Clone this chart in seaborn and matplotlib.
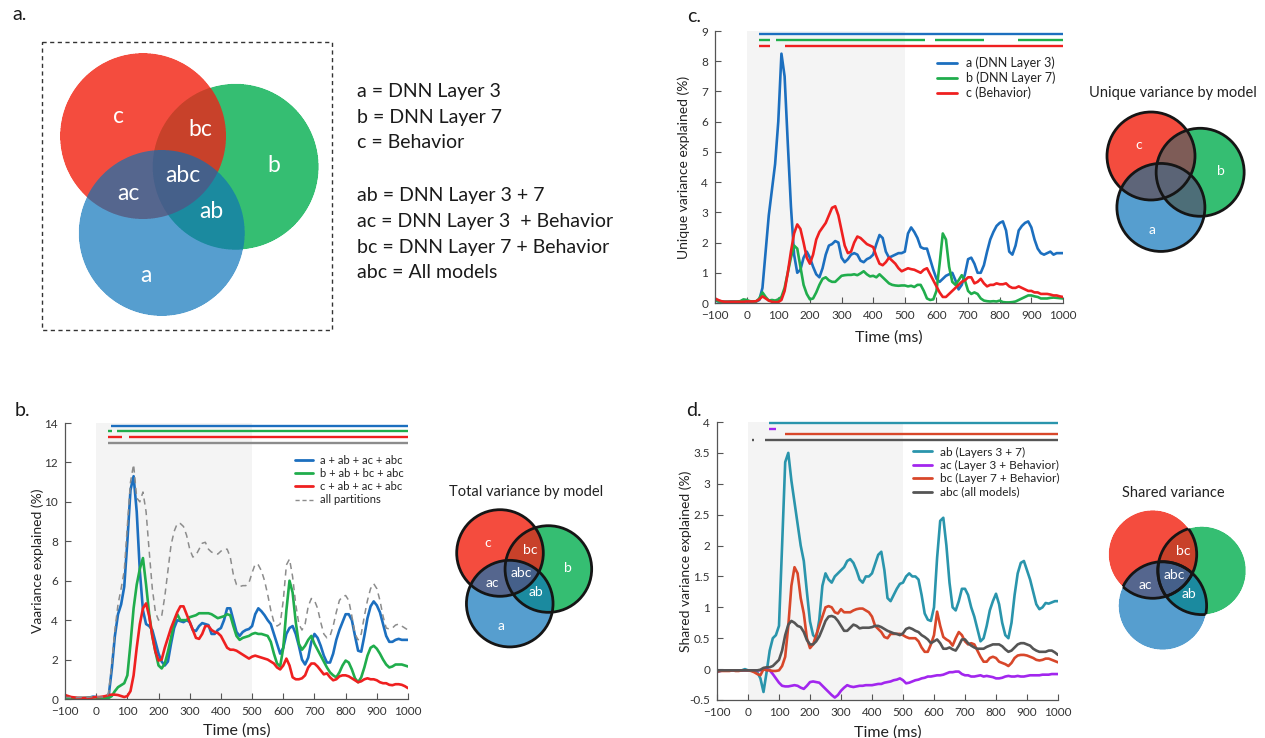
import numpy as np
import matplotlib.pyplot as plt
import seaborn as sns
from matplotlib.colors import to_rgba
from matplotlib.lines import Line2D
from matplotlib.patches import Circle, Rectangle

time_ms = list(range(-100, 1001, 10))

# b. total variance explained by each model (%)
total_a = [0.05, 0.05, 0.04, 0.04, 0.04, 0.05, 0.05, 0.06, 0.08, 0.12,
           0.1, 0.06, 0.05, 0.05, 0.15, 1.5, 3.2, 4.3, 4.8, 5.7,
           8.0, 10.6, 11.3, 9.5, 6.5, 4.5, 3.8, 3.7, 3.5, 2.9,
           2.3, 1.9, 1.7, 1.9, 2.8, 3.6, 4.0, 3.95, 3.9, 4.0,
           3.9, 3.5, 3.45, 3.7, 3.85, 3.8, 3.75, 3.3, 3.3, 3.5,
           3.6, 4.0, 4.6, 4.6, 4.0, 3.4, 3.2, 3.4, 3.5, 3.55,
           3.7, 4.3, 4.6, 4.45, 4.25, 4.0, 3.8, 3.3, 2.8, 2.3,
           2.6, 3.3, 3.6, 3.7, 3.3, 2.7, 2.0, 1.75, 2.1, 2.9,
           3.3, 3.1, 2.7, 2.2, 1.85, 1.85, 2.3, 3.0, 3.5, 3.9,
           4.3, 4.3, 4.0, 3.2, 2.45, 2.4, 3.2, 4.1, 4.7, 4.95,
           4.75, 4.4, 3.8, 3.2, 2.9, 2.9, 3.0, 3.05, 3.0, 3.0,
           3.0]
total_b = [0.05, 0.05, 0.05, 0.05, 0.04, 0.04, 0.05, 0.05, 0.06, 0.08,
           0.08, 0.05, 0.04, 0.04, 0.05, 0.15, 0.4, 0.6, 0.7, 0.8,
           1.2, 2.8, 4.6, 5.8, 6.6, 7.15, 5.8, 4.3, 3.2, 2.4,
           1.7, 1.55, 1.8, 2.4, 3.1, 3.9, 4.3, 4.0, 4.0, 4.0,
           4.15, 4.2, 4.25, 4.35, 4.35, 4.35, 4.35, 4.3, 4.2, 4.1,
           4.15, 4.2, 4.3, 4.25, 3.7, 3.2, 3.0, 3.1, 3.15, 3.2,
           3.3, 3.35, 3.3, 3.3, 3.25, 3.2, 2.9, 2.3, 1.8, 1.65,
           2.6, 4.5, 6.0, 5.4, 3.9, 2.8, 2.5, 2.7, 3.0, 3.2,
           2.8, 2.5, 2.2, 1.9, 1.6, 1.35, 1.2, 1.1, 1.35, 1.7,
           1.95, 1.85, 1.5, 1.05, 0.85, 1.1, 1.6, 2.2, 2.6, 2.7,
           2.55, 2.3, 2.0, 1.75, 1.6, 1.65, 1.75, 1.75, 1.75, 1.7,
           1.65]
total_c = [0.2, 0.15, 0.1, 0.08, 0.06, 0.05, 0.05, 0.05, 0.05, 0.08,
           0.1, 0.1, 0.12, 0.15, 0.2, 0.22, 0.22, 0.2, 0.15, 0.1,
           0.15, 0.4, 1.2, 2.6, 3.8, 4.6, 4.85, 4.2, 3.2, 2.4,
           1.95, 2.0, 2.6, 3.1, 3.6, 4.0, 4.4, 4.7, 4.7, 4.3,
           3.9, 3.5, 3.1, 3.05, 3.3, 3.7, 3.7, 3.5, 3.4, 3.35,
           3.2, 2.9, 2.6, 2.5, 2.5, 2.45, 2.35, 2.25, 2.15, 2.05,
           2.15, 2.2, 2.15, 2.1, 2.05, 2.0, 1.9, 1.8, 1.6, 1.5,
           1.7, 2.05, 1.7, 1.1, 1.0, 1.0, 1.05, 1.2, 1.6, 1.8,
           1.8, 1.65, 1.45, 1.25, 1.3, 1.1, 0.95, 1.0, 1.15, 1.2,
           1.2, 1.15, 1.05, 0.95, 0.85, 0.9, 1.0, 1.05, 1.0, 1.0,
           0.95, 0.85, 0.8, 0.8, 0.72, 0.7, 0.75, 0.75, 0.72, 0.65,
           0.55]
total_all = [0.08, 0.08, 0.07, 0.07, 0.07, 0.08, 0.08, 0.08, 0.1, 0.12,
             0.12, 0.1, 0.1, 0.1, 0.3, 1.8, 3.5, 4.8, 5.6, 6.5,
             8.8, 11.0, 11.9, 10.2, 10.0, 10.5, 9.5, 7.5, 5.6, 4.4,
             4.0, 4.2, 5.2, 6.5, 7.8, 8.5, 8.9, 8.9, 8.75, 8.3,
             7.6, 7.2, 7.3, 7.6, 7.9, 7.95, 7.6, 7.45, 7.4, 7.35,
             7.5, 7.6, 7.6, 7.2, 6.3, 5.8, 5.7, 5.75, 5.75, 5.9,
             6.4, 6.85, 6.8, 6.5, 6.0, 5.3, 4.5, 3.9, 3.7, 3.8,
             5.0, 6.8, 7.1, 6.2, 4.8, 3.8, 3.5, 3.8, 4.7, 5.1,
             5.0, 4.6, 3.9, 3.3, 3.1, 3.2, 3.7, 4.4, 5.0, 5.2,
             5.25, 5.0, 4.2, 3.3, 3.0, 3.3, 4.2, 5.0, 5.6, 5.85,
             5.6, 5.0, 4.2, 3.6, 3.55, 3.6, 3.75, 3.8, 3.7, 3.6,
             3.5]

# c. unique variance explained (%)
unique_a = [0.1, 0.05, 0.05, 0.04, 0.04, 0.05, 0.05, 0.04, 0.05, 0.08,
            0.05, 0.05, 0.05, 0.05, 0.1, 0.5, 1.7, 2.9, 3.75, 4.6,
            6.0, 8.25, 7.5, 5.3, 3.2, 1.6, 1.0, 1.1, 1.5, 1.7,
            1.5, 1.2, 0.95, 0.85, 1.15, 1.6, 1.9, 1.95, 2.05, 2.0,
            1.5, 1.35, 1.45, 1.6, 1.65, 1.6, 1.4, 1.35, 1.45, 1.5,
            1.6, 1.95, 2.25, 2.15, 1.7, 1.5, 1.55, 1.6, 1.65, 1.65,
            1.7, 2.3, 2.5, 2.35, 2.15, 1.85, 1.8, 1.8, 1.45, 1.1,
            0.8, 0.7, 0.8, 0.9, 0.95, 1.0, 0.75, 0.45, 0.6, 0.95,
            1.45, 1.5, 1.3, 1.0, 1.0, 1.25, 1.7, 2.1, 2.35, 2.55,
            2.65, 2.7, 2.4, 1.7, 1.6, 1.9, 2.4, 2.55, 2.65, 2.7,
            2.5, 2.1, 1.8, 1.65, 1.6, 1.65, 1.7, 1.6, 1.65, 1.65,
            1.65]
unique_b = [0.1, 0.06, 0.04, 0.04, 0.04, 0.04, 0.04, 0.05, 0.06, 0.12,
            0.1, 0.06, 0.05, 0.05, 0.15, 0.35, 0.2, 0.08, 0.1, 0.08,
            0.12, 0.2, 0.5, 1.0, 1.5, 1.9, 1.8, 1.2, 0.6, 0.3,
            0.12, 0.15, 0.35, 0.6, 0.8, 0.85, 0.75, 0.7, 0.7, 0.8,
            0.9, 0.92, 0.93, 0.93, 0.95, 0.92, 0.98, 1.05, 0.95, 0.88,
            0.9, 0.85, 0.95, 0.85, 0.75, 0.65, 0.6, 0.58, 0.57, 0.58,
            0.58, 0.55, 0.57, 0.53, 0.6, 0.6, 0.4, 0.15, 0.1, 0.12,
            0.4, 1.3, 2.3, 2.1, 1.2, 0.7, 0.6, 0.75, 0.92, 0.75,
            0.4, 0.3, 0.35, 0.3, 0.15, 0.08, 0.06, 0.05, 0.06, 0.05,
            0.08, 0.03, 0.02, 0.02, 0.03, 0.05, 0.1, 0.15, 0.2, 0.25,
            0.25, 0.22, 0.2, 0.15, 0.15, 0.15, 0.17, 0.18, 0.17, 0.16,
            0.15]
unique_c = [0.15, 0.1, 0.06, 0.04, 0.04, 0.04, 0.04, 0.04, 0.04, 0.04,
            0.05, 0.05, 0.05, 0.06, 0.12, 0.22, 0.15, 0.08, 0.04, 0.03,
            0.03, 0.1, 0.4, 1.0, 1.7, 2.3, 2.6, 2.45, 2.0, 1.5,
            1.3, 1.6, 2.1, 2.35, 2.5, 2.65, 2.9, 3.15, 3.2, 2.9,
            2.4, 1.9, 1.65, 1.7, 2.0, 2.2, 2.15, 2.05, 1.95, 1.9,
            1.85, 1.55, 1.3, 1.25, 1.35, 1.5, 1.4, 1.3, 1.15, 1.05,
            1.1, 1.15, 1.12, 1.1, 1.05, 1.0, 1.1, 1.15, 0.95, 0.75,
            0.55, 0.35, 0.2, 0.2, 0.3, 0.4, 0.5, 0.6, 0.7, 0.75,
            0.85, 0.85, 0.65, 0.7, 0.8, 0.65, 0.55, 0.6, 0.6, 0.65,
            0.62, 0.62, 0.65, 0.55, 0.5, 0.5, 0.55, 0.5, 0.45, 0.4,
            0.4, 0.35, 0.35, 0.3, 0.3, 0.3, 0.28, 0.25, 0.25, 0.22,
            0.2]

# d. shared variance explained (%)
shared_ab = [-0.05, -0.03, -0.02, -0.02, -0.02, -0.02, -0.02, -0.02, -0.02, 0.0,
             -0.02, -0.02, -0.02, -0.05, -0.15, -0.37, -0.05, 0.3, 0.5, 0.55,
             0.7, 2.0, 3.35, 3.5, 3.05, 2.7, 2.35, 2.0, 1.75, 1.25,
             0.77, 0.55, 0.5, 0.8, 1.35, 1.55, 1.45, 1.4, 1.5, 1.55,
             1.6, 1.65, 1.75, 1.78, 1.72, 1.6, 1.45, 1.4, 1.5, 1.5,
             1.55, 1.7, 1.85, 1.9, 1.6, 1.15, 1.1, 1.2, 1.3, 1.38,
             1.4, 1.5, 1.55, 1.5, 1.5, 1.45, 1.2, 0.9, 0.8, 0.78,
             1.0, 1.8, 2.4, 2.45, 2.0, 1.4, 1.0, 0.95, 1.1, 1.3,
             1.3, 1.2, 1.0, 0.85, 0.65, 0.45, 0.5, 0.7, 0.95, 1.1,
             1.22, 1.05, 0.75, 0.55, 0.5, 0.75, 1.2, 1.55, 1.72, 1.75,
             1.6, 1.45, 1.25, 1.05, 0.97, 1.0, 1.07, 1.06, 1.08, 1.1,
             1.1]
shared_ac = [-0.03, -0.03, -0.02, -0.02, -0.02, -0.02, -0.02, -0.02, -0.02, -0.02,
             -0.02, -0.02, -0.02, -0.02, -0.02, -0.01, 0.0, -0.02, -0.08, -0.15,
             -0.22, -0.27, -0.28, -0.28, -0.27, -0.26, -0.27, -0.3, -0.32, -0.27,
             -0.21, -0.2, -0.21, -0.22, -0.27, -0.32, -0.37, -0.42, -0.46, -0.42,
             -0.35, -0.3, -0.26, -0.28, -0.29, -0.28, -0.27, -0.27, -0.26, -0.26,
             -0.26, -0.25, -0.24, -0.24, -0.22, -0.21, -0.2, -0.18, -0.17, -0.15,
             -0.18, -0.23, -0.22, -0.2, -0.18, -0.17, -0.15, -0.14, -0.12, -0.12,
             -0.11, -0.1, -0.1, -0.09, -0.07, -0.05, -0.05, -0.04, -0.04, -0.08,
             -0.1, -0.1, -0.12, -0.12, -0.11, -0.1, -0.12, -0.11, -0.12, -0.13,
             -0.15, -0.15, -0.14, -0.12, -0.11, -0.12, -0.12, -0.11, -0.12, -0.12,
             -0.11, -0.1, -0.1, -0.1, -0.1, -0.09, -0.09, -0.09, -0.08, -0.08,
             -0.08]
shared_bc = [-0.04, -0.03, -0.03, -0.03, -0.03, -0.02, -0.03, -0.03, -0.02, -0.02,
             -0.02, -0.03, -0.05, -0.08, -0.1, 0.0, -0.02, -0.02, -0.03, -0.03,
             -0.02, 0.05, 0.2, 0.7, 1.35, 1.65, 1.55, 1.15, 0.9, 0.5,
             0.34, 0.4, 0.55, 0.7, 0.85, 1.0, 1.02, 1.0, 0.92, 0.9,
             0.97, 0.92, 0.92, 0.92, 0.95, 0.97, 0.98, 0.98, 0.95, 0.92,
             0.85, 0.7, 0.65, 0.6, 0.52, 0.5, 0.57, 0.57, 0.57, 0.57,
             0.55, 0.52, 0.5, 0.5, 0.5, 0.45, 0.35, 0.28, 0.28, 0.4,
             0.55, 0.93, 0.7, 0.52, 0.48, 0.45, 0.38, 0.5, 0.6, 0.55,
             0.45, 0.4, 0.42, 0.4, 0.3, 0.2, 0.12, 0.12, 0.18, 0.2,
             0.18, 0.12, 0.1, 0.08, 0.05, 0.1, 0.18, 0.22, 0.23, 0.23,
             0.22, 0.2, 0.18, 0.15, 0.14, 0.15, 0.17, 0.17, 0.15, 0.13,
             0.11]
shared_abc = [-0.02, -0.02, -0.02, -0.02, -0.02, -0.02, -0.02, -0.02, -0.02, -0.02,
              -0.02, -0.02, -0.02, -0.02, -0.01, 0.02, 0.03, 0.03, 0.05, 0.1,
              0.15, 0.3, 0.55, 0.72, 0.78, 0.75, 0.7, 0.68, 0.6, 0.47,
              0.4, 0.4, 0.45, 0.53, 0.65, 0.78, 0.85, 0.86, 0.84, 0.78,
              0.7, 0.62, 0.62, 0.67, 0.72, 0.7, 0.66, 0.67, 0.67, 0.67,
              0.68, 0.7, 0.7, 0.68, 0.65, 0.62, 0.6, 0.58, 0.57, 0.55,
              0.58, 0.65, 0.67, 0.65, 0.62, 0.6, 0.55, 0.52, 0.48, 0.42,
              0.45, 0.48, 0.42, 0.33, 0.33, 0.35, 0.32, 0.3, 0.38, 0.48,
              0.48, 0.42, 0.38, 0.35, 0.33, 0.33, 0.33, 0.36, 0.38, 0.4,
              0.4, 0.4, 0.37, 0.32, 0.28, 0.3, 0.35, 0.4, 0.42, 0.42,
              0.4, 0.38, 0.33, 0.3, 0.28, 0.28, 0.28, 0.3, 0.3, 0.27,
              0.23]

# significant time windows (ms)
sig_total = [[(46, 1000)], [(37, 50), (67, 1000)], [(37, 82), (106, 1000)], [(37, 1000)]]
sig_unique = [[(40, 1000)], [(40, 74), (93, 565), (594, 749), (857, 1000)], [(40, 74), (121, 1000)]]
sig_shared = [[(69, 1000)], [(69, 89)], [(118, 1000)], [(12, 20), (55, 1000)]]

total_labels = ['a + ab + ac + abc', 'b + ab + bc + abc', 'c + ab + ac + abc', 'all partitions']
unique_labels = ['a (DNN Layer 3)', 'b (DNN Layer 7)', 'c (Behavior)']
shared_labels = ['ab (Layers 3 + 7)', 'ac (Layer 3 + Behavior)', 'bc (Layer 7 + Behavior)', 'abc (all models)']
venn_key = ['a = DNN Layer 3', 'b = DNN Layer 7', 'c = Behavior', '',
            'ab = DNN Layer 3 + 7', 'ac = DNN Layer 3  + Behavior',
            'bc = DNN Layer 7 + Behavior', 'abc = All models']

BLUE, GREEN, RED = '#1c6fbf', '#20ad4c', '#ef2020'
TEAL, PURPLE, ORANGE, DGRAY = '#2a95ac', '#a226ee', '#d8472a', '#555555'
venn_total = {1: '#579fcf', 2: '#35be72', 4: '#f44d3e', 3: '#1b8aa0',
              5: '#56668f', 6: '#c8412a', 7: '#46608a'}
venn_unique = {1: '#579fcf', 2: '#35be72', 4: '#f44d3e', 3: '#4e6e78',
               5: '#5e6579', 6: '#7e5d58', 7: '#5c6476'}

sns.set_theme(style='ticks')
plt.rcParams['font.family'] = ['Lato', 'DejaVu Sans']

fig = plt.figure(figsize=(12.65, 7.38), dpi=100)
W, H = 1265, 738


def time_axis(box, ylim, yticks, yticklabels, ylabel):
    # box = (left, top, right, bottom) in pixels
    l, t, r, b = box
    ax = fig.add_axes([l / W, 1 - b / H, (r - l) / W, (b - t) / H])
    ax.axvspan(0, 500, color='#f4f4f4', lw=0, zorder=0)
    ax.set_xlim(-100, 1000)
    ax.set_ylim(*ylim)
    ax.set_xticks(range(-100, 1001, 100))
    ax.set_yticks(yticks)
    ax.set_yticklabels(yticklabels)
    sns.despine(ax=ax)
    for side in ('left', 'bottom'):
        ax.spines[side].set_color('#555555')
        ax.spines[side].set_linewidth(0.9)
    ax.tick_params(direction='in', length=4, width=0.8, color='#555555',
                   labelcolor='#333333', labelsize=8.5)
    ax.tick_params(axis='x', pad=5)
    ax.tick_params(axis='y', pad=5)
    ax.set_xlabel('Time (ms)', fontsize=11.5, color='#222222')
    ax.set_ylabel(ylabel, fontsize=10, color='#222222')
    ax.xaxis.set_label_coords(0.5, -0.09)
    return ax


def sig_bars(ax, windows, levels, colors):
    for spans, y, col in zip(windows, levels, colors):
        for start, end in spans:
            ax.plot([start, end], [y, y], color=col, lw=1.7, clip_on=False,
                    solid_capstyle='butt')


def add_legend(ax, handles, labels, anchor, fs):
    ax.legend(handles, labels, loc='upper left', bbox_to_anchor=anchor,
              frameon=False, fontsize=fs, handlelength=1.6, handletextpad=0.7,
              labelspacing=0.2, borderaxespad=0, borderpad=0,
              labelcolor='#222222')


# ---- b. total variance
ax_b = time_axis((65, 423, 408, 699), (0, 14), range(0, 15, 2),
                 [str(v) for v in range(0, 15, 2)], 'Vaariance explained (%)')
ax_b.yaxis.set_label_coords(-0.062, 0.5)
for vals, col in zip([total_a, total_b, total_c], [BLUE, GREEN, RED]):
    sns.lineplot(x=time_ms, y=vals, ax=ax_b, color=col, lw=1.9)
sns.lineplot(x=time_ms, y=total_all, ax=ax_b, color='#8c8c8c', lw=1.1,
             linestyle=(0, (4, 3)))
sig_bars(ax_b, sig_total, [13.87, 13.58, 13.28, 12.98], [BLUE, GREEN, RED, '#8c8c8c'])
handles = [Line2D([], [], color=c, lw=2) for c in (BLUE, GREEN, RED)]
handles.append(Line2D([], [], color='#8c8c8c', lw=1, linestyle=(0, (3, 2))))
add_legend(ax_b, handles, total_labels, (0.67, 0.885), 8)

# ---- c. unique variance
ax_c = time_axis((715, 31, 1063, 303), (0, 9), range(0, 10),
                 [str(v) for v in range(0, 10)], 'Unique variance explained (%)')
ax_c.yaxis.set_label_coords(-0.072, 0.5)
ax_c.xaxis.set_label_coords(0.5, -0.1)
for vals, col in zip([unique_a, unique_b, unique_c], [BLUE, GREEN, RED]):
    sns.lineplot(x=time_ms, y=vals, ax=ax_c, color=col, lw=1.9)
sig_bars(ax_c, sig_unique, [8.9, 8.71, 8.52], [BLUE, GREEN, RED])
handles = [Line2D([], [], color=c, lw=2) for c in (BLUE, GREEN, RED)]
add_legend(ax_c, handles, unique_labels, (0.638, 0.905), 9)

# ---- d. shared variance
d_ticks = [-0.5, 0, 0.5, 1, 1.5, 2, 2.5, 3, 3.5, 4]
ax_d = time_axis((717, 422, 1058, 700), (-0.5, 4), d_ticks,
                 ['%g' % v for v in d_ticks], 'Shared variance explained (%)')
ax_d.yaxis.set_label_coords(-0.073, 0.5)
for vals, col in zip([shared_ab, shared_ac, shared_bc, shared_abc],
                     [TEAL, PURPLE, ORANGE, DGRAY]):
    sns.lineplot(x=time_ms, y=vals, ax=ax_d, color=col, lw=1.9)
sig_bars(ax_d, sig_shared, [3.99, 3.89, 3.8, 3.71], [TEAL, PURPLE, ORANGE, DGRAY])
handles = [Line2D([], [], color=c, lw=2) for c in (TEAL, PURPLE, ORANGE, DGRAY)]
add_legend(ax_d, handles, shared_labels, (0.574, 0.912), 8.5)

# ---- overlay in pixel coordinates for venns and panel a
ov = fig.add_axes([0, 0, 1, 1])
ov.axis('off')

venn_offsets = {'c': (0, 0), 'b': (1.117, 0.37), 'a': (0.225, 1.169)}
label_offsets = {'c': (-0.29, -0.24), 'bc': (0.69, -0.08), 'b': (1.58, 0.35),
                 'abc': (0.48, 0.47), 'ac': (-0.17, 0.69), 'ab': (0.82, 0.91),
                 'a': (0.03, 1.68)}


def draw_venn(cx, cy, r, fills, outline, labels, fs):
    centres = {k: (cx + dx * r, cy + dy * r) for k, (dx, dy) in venn_offsets.items()}
    x0, y0 = int(cx - r - 4), int(cy - r - 4)
    nx, ny = int(3.117 * r + 10), int(3.169 * r + 10)
    s = 4
    xs = x0 + (np.arange(nx * s) + 0.5) / s
    ys = y0 + (np.arange(ny * s) + 0.5) / s
    gx, gy = np.meshgrid(xs, ys)
    code = np.zeros(gx.shape, dtype=int)
    for bit, key in ((1, 'a'), (2, 'b'), (4, 'c')):
        px, py = centres[key]
        code |= ((gx - px) ** 2 + (gy - py) ** 2 <= r ** 2).astype(int) * bit
    img = np.ones(gx.shape + (4,))
    img[..., 3] = 0
    for k, col in fills.items():
        img[code == k] = to_rgba(col)
    img = img.reshape(ny, s, nx, s, 4).mean(axis=(1, 3))
    ov.imshow(img, extent=(x0, x0 + nx, y0 + ny, y0), interpolation='bilinear',
              aspect='auto', zorder=1)
    lw = 2.0
    for key in 'abc':
        if outline == 'full':
            ov.add_patch(Circle(centres[key], r, fill=False, ec='#151515', lw=lw, zorder=3))
        elif outline == 'shared':
            for other in 'abc':
                if other == key:
                    continue
                ring = Circle(centres[key], r, fill=False, ec='#151515', lw=lw, zorder=3)
                ov.add_patch(ring)
                ring.set_clip_path(Circle(centres[other], r, transform=ov.transData))
    for lab in labels:
        dx, dy = label_offsets[lab]
        ov.text(cx + dx * r, cy + dy * r, lab, color='white', fontsize=fs,
                ha='center', va='center', zorder=4)


# panel a
ov.add_patch(Rectangle((42, 42), 290, 288, fill=False, ec='#333333', lw=1,
                       linestyle=(0, (3, 2.5)), zorder=2))
draw_venn(143, 136, 83, venn_total, None, ['c', 'bc', 'b', 'abc', 'ac', 'ab', 'a'], 16.5)
key_y = [92, 117, 143, 169, 195, 221, 247, 273]
for y, line in zip(key_y, venn_key):
    ov.text(357, y, line, fontsize=14, va='center', ha='left', color='#1a1a1a')

# small venns
draw_venn(500, 553, 43.3, venn_total, 'full', ['c', 'bc', 'b', 'abc', 'ac', 'ab', 'a'], 10)
draw_venn(1151, 156, 44, venn_unique, 'full', ['c', 'b', 'a'], 10)
draw_venn(1152.7, 554.3, 44, venn_total, 'shared', ['bc', 'abc', 'ac', 'ab'], 10)

ov.text(526, 492, 'Total variance by model', fontsize=10.5, ha='center', va='center', color='#222222')
ov.text(1173, 93, 'Unique variance by model', fontsize=10.5, ha='center', va='center', color='#222222')
ov.text(1173, 493, 'Shared variance', fontsize=10.5, ha='center', va='center', color='#222222')

for x, y, s in [(12, 15, 'a.'), (15, 411, 'b.'), (687, 16, 'c.'), (686, 411, 'd.')]:
    ov.text(x, y, s, fontsize=14, ha='left', va='center', color='#1a1a1a')

ov.set_xlim(0, W)
ov.set_ylim(H, 0)

fig.savefig('out.png', dpi=100)
